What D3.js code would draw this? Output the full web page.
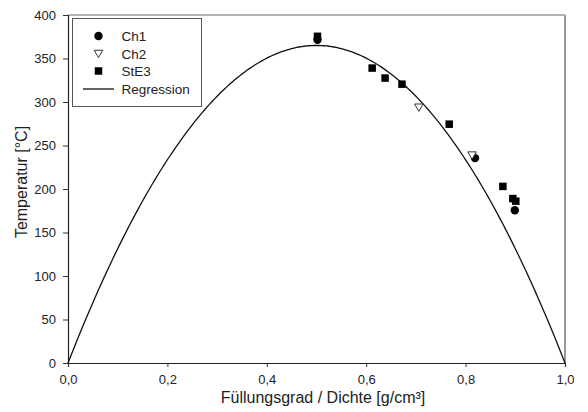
<!DOCTYPE html>
<html>
<head>
<meta charset="utf-8">
<script src="https://cdn.jsdelivr.net/npm/d3@7"></script>
<style>
  html, body { margin: 0; padding: 0; background: #fff; }
  svg { display: block; font-family: "Liberation Sans", Arial, sans-serif; }
</style>
</head>
<body>
<svg id="chart" width="588" height="412"></svg>
<script>
// Measured points: filling degree / density [g/cm³] vs. temperature [°C]
const ch1X = [0.502, 0.819, 0.899];
const ch1Y = [371.5, 235.5, 175.5];

const ch2X = [0.706, 0.813];
const ch2Y = [294, 239];

const ste3X = [0.502, 0.612, 0.638, 0.672, 0.767, 0.875, 0.895, 0.901];
const ste3Y = [375.5, 339, 327.5, 320.5, 274.5, 203, 189, 186];

// Regression model T = a·x + b·x²
const regressionCoef = [1460, -1460];

const xTicks = [0, 0.2, 0.4, 0.6, 0.8, 1.0];
const yTicks = [0, 50, 100, 150, 200, 250, 300, 350, 400];

const legendLabels = ["Ch1", "Ch2", "StE3", "Regression"];

const W = 588, H = 412;
const margin = { left: 68, right: 23, top: 15, bottom: 49 };
const svg = d3.select("#chart");

const x = d3.scaleLinear().domain([0, 1]).range([margin.left, W - margin.right]);
const y = d3.scaleLinear().domain([0, 400]).range([H - margin.bottom, margin.top]);

const fmt = d => d3.format(".1f")(d).replace(".", ",");

// frame: top and right edges
svg.append("line")
  .attr("x1", x(0)).attr("x2", x(1)).attr("y1", y(400)).attr("y2", y(400))
  .attr("stroke", "#666").attr("stroke-width", 1);
svg.append("line")
  .attr("x1", x(1)).attr("x2", x(1)).attr("y1", y(400)).attr("y2", y(0))
  .attr("stroke", "#999").attr("stroke-width", 2);

// axes
const xAxis = svg.append("g")
  .attr("transform", `translate(0,${y(0)})`)
  .call(d3.axisBottom(x).tickValues(xTicks).tickFormat(fmt).tickSizeOuter(0).tickSize(4).tickPadding(8));
const yAxis = svg.append("g")
  .attr("transform", `translate(${x(0)},0)`)
  .call(d3.axisLeft(y).tickValues(yTicks).tickSizeOuter(0).tickSize(5).tickPadding(7));

[xAxis, yAxis].forEach(g => {
  g.select(".domain").attr("stroke", "#222").attr("stroke-width", 1.2);
  g.selectAll(".tick line").attr("stroke", "#333");
  g.selectAll(".tick text")
    .attr("fill", "#222")
    .style("font-size", "13px")
    .style("font-family", "'Liberation Sans', Arial, sans-serif");
});

// axis titles
svg.append("text")
  .attr("x", 323).attr("y", 403)
  .attr("text-anchor", "middle")
  .attr("fill", "#222")
  .style("font-size", "16px")
  .text("Füllungsgrad / Dichte [g/cm³]");
svg.append("text")
  .attr("transform", `translate(27,182) rotate(-90)`)
  .attr("text-anchor", "middle")
  .attr("fill", "#222")
  .style("font-size", "16px")
  .text("Temperatur [°C]");

// regression curve
const curveX = d3.range(0, 1.0001, 0.005);
const reg = v => regressionCoef[0] * v + regressionCoef[1] * v * v;
svg.append("path")
  .datum(curveX)
  .attr("fill", "none")
  .attr("stroke", "#111")
  .attr("stroke-width", 1.3)
  .attr("d", d3.line().x(d => x(d)).y(d => y(Math.max(0, reg(d)))));

// symbol drawers
function drawCircle(g, cx, cy) {
  g.append("circle").attr("cx", cx).attr("cy", cy).attr("r", 4.2).attr("fill", "#000");
}
function drawTriangle(g, cx, cy) {
  const s = 4.3;
  g.append("path")
    .attr("d", `M${cx - s},${cy - s * 0.75}L${cx + s},${cy - s * 0.75}L${cx},${cy + s * 0.95}Z`)
    .attr("fill", "#fff").attr("stroke", "#333").attr("stroke-width", 1);
}
function drawSquare(g, cx, cy) {
  const s = 7.5;
  g.append("rect").attr("x", cx - s / 2).attr("y", cy - s / 2)
    .attr("width", s).attr("height", s).attr("fill", "#000");
}

const marks = svg.append("g");
ch1X.forEach((v, i) => drawCircle(marks, x(v), y(ch1Y[i])));
ch2X.forEach((v, i) => drawTriangle(marks, x(v), y(ch2Y[i])));
ste3X.forEach((v, i) => drawSquare(marks, x(v), y(ste3Y[i])));

// legend
const lg = svg.append("g");
lg.append("rect")
  .attr("x", 72.5).attr("y", 18.5).attr("width", 129).attr("height", 88)
  .attr("fill", "#fff").attr("stroke", "#555").attr("stroke-width", 1);
const rowY = [36, 53.5, 71, 89];
const symX = 98.5;
drawCircle(lg, symX, rowY[0]);
drawTriangle(lg, symX, rowY[1]);
drawSquare(lg, symX, rowY[2]);
lg.append("line")
  .attr("x1", 83).attr("x2", 114).attr("y1", rowY[3]).attr("y2", rowY[3])
  .attr("stroke", "#111").attr("stroke-width", 1.3);
legendLabels.forEach((t, i) => {
  lg.append("text")
    .attr("x", 121.5).attr("y", rowY[i] + 5)
    .attr("fill", "#222")
    .style("font-size", "13.5px")
    .text(t);
});
</script>
</body>
</html>
